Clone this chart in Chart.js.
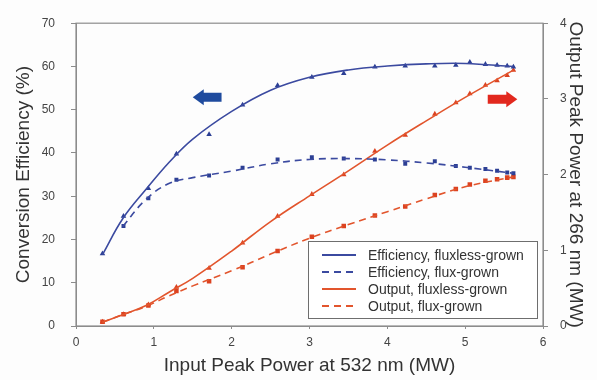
<!DOCTYPE html>
<html>
<head>
<meta charset="utf-8">
<title>Conversion efficiency and output power</title>
<script src="https://cdn.jsdelivr.net/npm/chart.js@4.4.1/dist/chart.umd.min.js"></script>
<style>
  html, body { margin: 0; padding: 0; background: #fdfdfd; }
  canvas { display: block; }
</style>
</head>
<body>
<canvas id="grafico" width="597" height="380"></canvas>
<script>
// valores
const potenciaEntrada = [0.34, 0.61, 0.93, 1.29, 1.71, 2.14, 2.59, 3.03, 3.44, 3.84, 4.23, 4.61, 4.88, 5.06, 5.26, 5.41, 5.54, 5.62];
const eficienciaSemFluxo = [16.7, 25.4, 31.8, 39.8, 44.3, 51.1, 55.6, 57.5, 58.4, 59.9, 60.1, 60.1, 60.3, 61.0, 60.5, 60.3, 60.1, 59.9];
const eficienciaFluxo = [null, 23.1, 29.5, 33.8, 34.8, 36.6, 38.5, 39.0, 38.7, 38.5, 37.5, 38.1, 37.0, 36.6, 36.3, 35.9, 35.5, 35.3];
const saidaSemFluxo = [0.055, 0.154, 0.283, 0.514, 0.763, 1.097, 1.45, 1.74, 2.0, 2.31, 2.52, 2.80, 2.95, 3.07, 3.18, 3.24, 3.31, 3.38];
const saidaFluxo = [0.055, 0.154, 0.27, 0.463, 0.59, 0.776, 0.99, 1.18, 1.32, 1.46, 1.58, 1.73, 1.81, 1.87, 1.92, 1.94, 1.96, 1.97];

// curvas ajustadas
const ajusteX = [0.34, 0.6, 0.9, 1.2, 1.5, 2, 2.5, 3, 3.5, 4, 4.5, 5, 5.62];
const ajusteEficSemFluxo = [16.5, 24.8, 31.6, 37.9, 43.2, 49.6, 54.5, 57.5, 59.2, 60.1, 60.6, 60.7, 60.0];
const ajusteEficFluxo = [null, 23.0, 29.3, 33.0, 34.3, 35.8, 37.5, 38.5, 38.7, 38.4, 37.7, 36.7, 35.3];
const ajusteSaidaSemFluxo = [0.05, 0.15, 0.27, 0.45, 0.63, 0.99, 1.38, 1.72, 2.05, 2.39, 2.71, 3.02, 3.38];
const ajusteSaidaFluxo = [0.05, 0.15, 0.26, 0.40, 0.53, 0.73, 0.95, 1.16, 1.34, 1.51, 1.68, 1.84, 1.97];

const rotulosLegenda = [
  "Efficiency, fluxless-grown",
  "Efficiency, flux-grown",
  "Output, fluxless-grown",
  "Output, flux-grown"
];

const AZUL = "#3b4aa0";
const AZUL_PONTO = "#2c3f94";
const VERMELHO = "#e2552d";
const VERMELHO_PONTO = "#dc4220";
const FONTE = "'Liberation Sans', Arial, sans-serif";

function pares(xs, ys) {
  return xs.map((x, i) => ({ x: x, y: ys[i] })).filter(p => p.y !== null);
}

function curva(ys, cor, tracejado, eixo) {
  return {
    data: pares(ajusteX, ys),
    yAxisID: eixo,
    showLine: true,
    borderColor: cor,
    borderWidth: 1.6,
    borderDash: tracejado ? [7, 5] : [],
    pointRadius: 0,
    tension: 0.4,
    fill: false
  };
}

function pontos(ys, cor, estilo, raio, eixo) {
  return {
    data: pares(potenciaEntrada, ys),
    yAxisID: eixo,
    showLine: false,
    pointStyle: estilo,
    pointRadius: raio,
    backgroundColor: cor,
    borderColor: cor,
    borderWidth: 0
  };
}

// moldura do gráfico, setas e legenda
const extras = {
  id: "extras",
  afterDatasetsDraw(chart) {
    const { ctx, chartArea: a, scales } = chart;
    ctx.save();
    ctx.strokeStyle = "#8c8c8c";
    ctx.lineWidth = 1.2;
    ctx.strokeRect(a.left, a.top, a.right - a.left, a.bottom - a.top);

    // setas
    function seta(x0, x1, yv, cor) {
      const px0 = scales.x.getPixelForValue(x0);
      const px1 = scales.x.getPixelForValue(x1);
      const py = scales.y.getPixelForValue(yv);
      const dir = px1 > px0 ? 1 : -1;
      const ponta = 11 * dir;
      ctx.fillStyle = cor;
      ctx.beginPath();
      ctx.moveTo(px0, py - 4.5);
      ctx.lineTo(px1 - ponta, py - 4.5);
      ctx.lineTo(px1 - ponta, py - 8);
      ctx.lineTo(px1, py);
      ctx.lineTo(px1 - ponta, py + 8);
      ctx.lineTo(px1 - ponta, py + 4.5);
      ctx.lineTo(px0, py + 4.5);
      ctx.closePath();
      ctx.fill();
    }
    seta(1.87, 1.50, 52.9, "#1f4b9e");
    seta(5.29, 5.67, 52.4, "#e2281e");

    // legenda
    const lx = 308, ly = 241, lw = 229, lh = 77;
    ctx.fillStyle = "#ffffff";
    ctx.fillRect(lx, ly, lw, lh);
    ctx.strokeStyle = "#6e6e6e";
    ctx.lineWidth = 1;
    ctx.strokeRect(lx + 0.5, ly + 0.5, lw, lh);
    const linhas = [
      { cor: AZUL, dash: [] },
      { cor: AZUL, dash: [7, 5] },
      { cor: VERMELHO, dash: [] },
      { cor: VERMELHO, dash: [7, 5] }
    ];
    const ys = [255, 272, 289, 306];
    ctx.font = "14px " + FONTE;
    ctx.textBaseline = "middle";
    ctx.textAlign = "left";
    linhas.forEach((l, i) => {
      ctx.strokeStyle = l.cor;
      ctx.lineWidth = 2;
      ctx.setLineDash(l.dash);
      ctx.beginPath();
      ctx.moveTo(322, ys[i]);
      ctx.lineTo(356, ys[i]);
      ctx.stroke();
      ctx.setLineDash([]);
      ctx.fillStyle = "#333333";
      ctx.fillText(rotulosLegenda[i], 368, ys[i] + 1);
    });
    ctx.restore();
  }
};

const fonteTicks = { family: FONTE, size: 12 };
const fonteTitulo = { family: FONTE, size: 19 };

new Chart(document.getElementById("grafico"), {
  type: "scatter",
  data: {
    datasets: [
      curva(ajusteEficSemFluxo, AZUL, false, "y"),
      curva(ajusteEficFluxo, AZUL, true, "y"),
      curva(ajusteSaidaSemFluxo, VERMELHO, false, "y2"),
      curva(ajusteSaidaFluxo, VERMELHO, true, "y2"),
      pontos(eficienciaSemFluxo, AZUL_PONTO, "triangle", 3.2, "y"),
      pontos(eficienciaFluxo, AZUL_PONTO, "rect", 2.8, "y"),
      pontos(saidaSemFluxo, VERMELHO_PONTO, "triangle", 3.2, "y2"),
      pontos(saidaFluxo, VERMELHO_PONTO, "rect", 3.2, "y2")
    ]
  },
  options: {
    responsive: false,
    animation: false,
    layout: { padding: { top: 15, left: 0, right: 0, bottom: 0 } },
    plugins: {
      legend: { display: false },
      tooltip: { enabled: false }
    },
    scales: {
      x: {
        type: "linear",
        min: 0,
        max: 6,
        afterFit: s => { s.height = 54; },
        ticks: { stepSize: 1, color: "#444", font: fonteTicks, padding: 6 },
        grid: { drawOnChartArea: false, drawTicks: true, tickLength: 3, color: "#8c8c8c" },
        border: { color: "#8c8c8c" },
        title: { display: true, text: "Input Peak Power at 532 nm (MW)", color: "#333", font: fonteTitulo, padding: { top: 0, bottom: 3 } }
      },
      y: {
        position: "left",
        min: 0,
        max: 70,
        afterFit: s => { s.width = 76; },
        ticks: { stepSize: 10, color: "#444", font: fonteTicks, padding: 16 },
        grid: { drawOnChartArea: false, drawTicks: true, tickLength: 5, color: "#8c8c8c" },
        border: { color: "#8c8c8c" },
        title: { display: true, text: "Conversion Efficiency (%)", color: "#333", font: fonteTitulo, padding: { top: 12, bottom: 0 } }
      },
      y2: {
        position: "right",
        min: 0,
        max: 4,
        afterFit: s => { s.width = 54; },
        ticks: { stepSize: 1, color: "#444", font: fonteTicks, padding: 12 },
        grid: { drawOnChartArea: false, drawTicks: true, tickLength: 5, color: "#8c8c8c" },
        border: { color: "#8c8c8c" },
        title: { display: true, text: "Output Peak Power at 266 nm (MW)", color: "#333", font: fonteTitulo, padding: { top: 10, bottom: 0 } }
      }
    }
  },
  plugins: [extras]
});
</script>
</body>
</html>
